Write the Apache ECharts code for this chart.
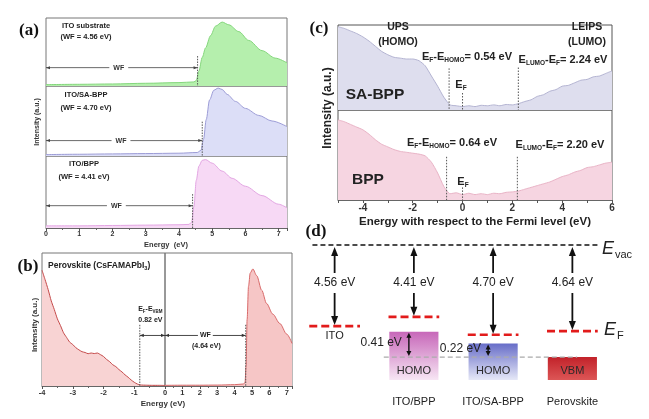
<!DOCTYPE html>
<html><head><meta charset="utf-8">
<script src="https://cdn.jsdelivr.net/npm/echarts@6/dist/echarts.min.js"></script>
<style>html,body{margin:0;padding:0;background:#fff}#c{width:649px;height:419px}</style>
</head><body><div id="c"></div>
<script>
// ---------- DATA ----------
// (a) secondary electron cut-off spectra (relative intensity)
const aEnergyITO = [0, 1, 2, 3, 4, 4.45, 4.52, 4.6, 4.7, 4.8, 4.95, 5.1, 5.3, 5.5, 5.8, 6.1, 6.5, 6.9, 7.25];
const aIntITO    = [0.02, 0.025, 0.03, 0.04, 0.05, 0.06, 0.08, 0.22, 0.42, 0.56, 0.74, 0.88, 0.94, 0.9, 0.8, 0.67, 0.52, 0.41, 0.34];
const aEnergySA  = [0, 1, 2, 3, 4, 4.55, 4.66, 4.74, 4.82, 4.92, 5.05, 5.18, 5.3, 5.45, 5.7, 6.0, 6.4, 6.8, 7.25];
const aIntSA     = [0.02, 0.025, 0.03, 0.035, 0.04, 0.05, 0.08, 0.24, 0.52, 0.8, 0.94, 0.97, 0.95, 0.88, 0.78, 0.68, 0.58, 0.5, 0.42];
const aEnergyBPP = [0, 1, 2, 3, 4, 4.3, 4.38, 4.45, 4.52, 4.6, 4.7, 4.8, 5.0, 5.3, 5.6, 6.0, 6.5, 7.0, 7.25];
const aIntBPP    = [0.03, 0.03, 0.035, 0.04, 0.045, 0.05, 0.08, 0.3, 0.66, 0.86, 0.94, 0.95, 0.9, 0.79, 0.69, 0.58, 0.45, 0.33, 0.28];
const aNames = ['ITO substrate', 'ITO/SA-BPP', 'ITO/BPP'];
const aWF = [4.56, 4.70, 4.41];

// (b) perovskite UPS
const bNegE = [-4.0,-3.9,-3.8,-3.7,-3.6,-3.5,-3.4,-3.3,-3.2,-3.1,-3.0,-2.9,-2.8,-2.7,-2.6,-2.5,-2.4,-2.3,-2.2,-2.1,-2.0,-1.9,-1.8,-1.7,-1.6,-1.5,-1.4,-1.3,-1.2,-1.1,-1.0,-0.9,-0.8,-0.6,-0.4,-0.2,0];
const bNegI = [0.87,0.8,0.725,0.64,0.575,0.505,0.455,0.4,0.365,0.33,0.312,0.288,0.272,0.258,0.252,0.243,0.248,0.244,0.248,0.236,0.222,0.2,0.183,0.16,0.146,0.124,0.106,0.084,0.066,0.045,0.028,0.015,0.008,0.006,0.005,0.005,0.004];
const bPosE = [0, 1, 2, 3, 4, 4.5, 4.6, 4.66, 4.72, 4.8, 4.9, 5.05, 5.27, 5.56, 5.84, 6.2, 6.6, 7.0, 7.3];
const bPosI = [0.005, 0.006, 0.006, 0.007, 0.01, 0.015, 0.025, 0.15, 0.5, 0.75, 0.85, 0.88, 0.83, 0.72, 0.62, 0.54, 0.47, 0.39, 0.32];
const bWF = 4.64;
const bEfVbm = 0.82;

// (c) UPS / LEIPS
const cEnergy = [-5,-4.75,-4.5,-4.25,-4,-3.75,-3.5,-3.25,-3,-2.75,-2.5,-2.25,-2,-1.75,-1.5,-1.25,-1,-0.75,-0.5,-0.25,0,0.25,0.5,0.75,1,1.25,1.5,1.75,2,2.25,2.5,2.75,3,3.25,3.5,3.75,4,4.25,4.5,4.75,5,5.25,5.5,5.75,6];
const cSABPP = [0.98,0.96,0.93,0.9,0.86,0.81,0.75,0.69,0.65,0.62,0.61,0.6,0.6,0.58,0.52,0.4,0.28,0.15,0.06,0.05,0.04,0.05,0.04,0.055,0.05,0.06,0.05,0.065,0.06,0.075,0.1,0.12,0.16,0.18,0.22,0.24,0.28,0.29,0.32,0.35,0.36,0.39,0.4,0.43,0.46];
const cBPP   = [0.89,0.87,0.84,0.81,0.78,0.73,0.67,0.62,0.59,0.56,0.54,0.53,0.52,0.51,0.49,0.42,0.3,0.15,0.07,0.08,0.06,0.075,0.06,0.07,0.06,0.075,0.07,0.085,0.09,0.1,0.12,0.14,0.16,0.18,0.2,0.23,0.26,0.28,0.31,0.33,0.36,0.37,0.39,0.41,0.42];
const cHomoGap = [0.54, 0.64];
const cLumoGap = [2.24, 2.20];

// (d) energy diagram
const dCats = ['ITO', 'ITO/BPP', 'ITO/SA-BPP', 'Perovskite'];
const dWF = [4.56, 4.41, 4.70, 4.64];
const dGap = [null, 0.41, 0.22, 0];
const dBoxLabel = [null, 'HOMO', 'HOMO', 'VBM'];

// ---------- HELPERS ----------
const F = "'Liberation Sans', Arial, Helvetica, sans-serif";
const FS = "'Liberation Serif', 'Times New Roman', serif";
const zip = (x, y) => x.map((v, i) => [v, y[i]]);
function head(tip, from, len, wid, color) {
  const dx = tip[0] - from[0], dy = tip[1] - from[1];
  const L = Math.hypot(dx, dy) || 1, ux = dx / L, uy = dy / L;
  const bx = tip[0] - ux * len, by = tip[1] - uy * len, px = -uy * wid / 2, py = ux * wid / 2;
  return {type: 'polygon', shape: {points: [[tip[0], tip[1]], [bx + px, by + py], [bx - px, by - py]]}, style: {fill: color}};
}
function seg(a, b, st) { return {type: 'line', shape: {x1: a[0], y1: a[1], x2: b[0], y2: b[1]}, style: Object.assign({fill: null}, st)}; }
function txt(x, y, text, font, opt) {
  return {type: 'text', x: x, y: y, style: Object.assign({text: text, font: font, fill: '#222', align: 'center', verticalAlign: 'middle', textAlign: 'center', textVerticalAlign: 'middle'}, opt || {})};
}
function rtxt(x, y, text, rich, opt) {
  return {type: 'text', x: x, y: y, style: Object.assign({text: text, rich: rich, fill: '#222', align: 'center', verticalAlign: 'middle', textAlign: 'center', textVerticalAlign: 'middle'}, opt || {})};
}
function richSet(size, subSize, weight) {
  return {
    m: {font: weight + ' ' + size + 'px ' + F, fontSize: size, fontWeight: weight, fontFamily: F, fill: '#222', color: '#222', lineHeight: size + 3},
    s: {font: weight + ' ' + subSize + 'px ' + F, fontSize: subSize, fontWeight: weight, fontFamily: F, fill: '#222', color: '#222', verticalAlign: 'bottom', lineHeight: subSize}
  };
}

// ---------- LAYOUT ----------
const gridA = [{top: 18, height: 68}, {top: 86, height: 70}, {top: 156, height: 72}];
const dLay = {yMax: -3.25, yMin: -5.43, ref: -5.06, half: 0.32, box: 0.31, evacFrom: -0.28, evacTo: 3.32, refFrom: 0.62, refTo: 3.06};
const aArrowY = [0.27, 0.22, 0.31], aDotTop = [0.44, 0.49, 0.47];

const grids = [];
gridA.forEach(g => grids.push({left: 46, width: 241, top: g.top, height: g.height}));
grids.push({left: 42, width: 123, top: 253, height: 133});
grids.push({left: 165, width: 127, top: 253, height: 133});
grids.push({left: 338, width: 274, top: 25, height: 85});
grids.push({left: 338, width: 274, top: 110, height: 90});
grids.push({left: 295, width: 317, top: 245, height: 135});
grids.forEach((g, i) => { g.show = i < 7; g.borderColor = i >= 5 ? '#555' : '#777'; g.borderWidth = 1; g.backgroundColor = 'transparent'; });

const tickLbl = (sz) => ({fontSize: sz, fontWeight: 'bold', color: '#333', fontFamily: F, margin: 3});
const baseAx = {type: 'value', splitLine: {show: false}, axisLine: {lineStyle: {color: '#666'}}, axisTick: {length: 3, lineStyle: {color: '#555'}}, minorTick: {show: true, splitNumber: 2, length: 2, lineStyle: {color: '#666'}}};
const isInt = v => Math.abs(v - Math.round(v)) < 1e-6;

const xAxis = [
  {gridIndex: 0, type: 'value', min: 0, max: 7.25, show: false},
  {gridIndex: 1, type: 'value', min: 0, max: 7.25, show: false},
  Object.assign({}, baseAx, {gridIndex: 2, min: 0, max: 7.25, interval: 1, axisLabel: Object.assign(tickLbl(7), {formatter: v => isInt(v) ? String(Math.round(v)) : ''})}),
  Object.assign({}, baseAx, {gridIndex: 3, min: -4, max: 0, interval: 1, axisLabel: Object.assign(tickLbl(7.5), {formatter: v => v === 0 ? '' : String(v)})}),
  Object.assign({}, baseAx, {gridIndex: 4, min: 0, max: 7.3, interval: 1, axisLabel: Object.assign(tickLbl(7.5), {formatter: v => isInt(v) ? String(Math.round(v)) : ''})}),
  {gridIndex: 5, type: 'value', min: -5, max: 6, show: false},
  Object.assign({}, baseAx, {gridIndex: 6, min: -5, max: 6, interval: 1, minorTick: {show: false}, axisTick: {length: 3, lineStyle: {color: '#555'}}, axisLabel: Object.assign(tickLbl(10), {formatter: v => (isInt(v) && Math.round(v) % 2 === 0) ? String(Math.round(v)) : ''})}),
  {gridIndex: 7, type: 'value', min: -0.5, max: 3.5, show: false}
];
const yAxis = [0, 1, 2, 3, 4, 5, 6].map(i => ({gridIndex: i, type: 'value', min: 0, max: 1, show: false}));
yAxis.push({gridIndex: 7, type: 'value', min: dLay.yMin, max: dLay.yMax, show: false});

// ---------- RENDERERS ----------
function wfArrowA(params, api) {
  const wf = api.value(0), ay = api.value(1), top = api.value(2);
  const p0 = api.coord([0, ay]), p1 = api.coord([wf, ay]);
  const d0 = api.coord([wf, top]), d1 = api.coord([wf, 0]);
  const mx = p0[0] + (p1[0] - p0[0]) * 0.48;
  return {type: 'group', children: [
    seg(p0, p1, {stroke: '#444', lineWidth: 0.8}),
    head(p0, [p0[0] + 5, p0[1]], 4, 3, '#444'),
    head(p1, [p1[0] - 5, p1[1]], 4, 3, '#444'),
    txt(mx, p0[1], 'WF', 'bold 7px ' + F, {fill: '#333', backgroundColor: '#fff', padding: [1, 4]}),
    seg(d0, d1, {stroke: '#555', lineWidth: 1, lineDash: [1.5, 1.2]})
  ]};
}
function bLeft(params, api) {
  const x = api.value(0), ay = api.value(1), top = api.value(2);
  const p0 = api.coord([0, ay]), p1 = api.coord([x, ay]);
  const d0 = api.coord([x, top]), d1 = api.coord([x, 0]);
  const mx = (p0[0] + p1[0]) / 2 - 2;
  return {type: 'group', children: [
    seg(p0, p1, {stroke: '#333', lineWidth: 0.9}),
    head(p1, p0, 4, 3.2, '#333'), head(p0, p1, 4, 3.2, '#333'),
    seg(d0, d1, {stroke: '#555', lineWidth: 1, lineDash: [1.5, 1.2]}),
    rtxt(mx, d0[1] - 16, '{m|E}{s|F}{m|-E}{s|VBM}', richSet(7, 4.5, 'bold')),
    txt(mx, d0[1] - 5, (-x).toFixed(2) + ' eV', 'bold 7px ' + F)
  ]};
}
function bRight(params, api) {
  const x = api.value(0), ay = api.value(1), top = api.value(2);
  const p0 = api.coord([0, ay]), p1 = api.coord([x, ay]);
  const d0 = api.coord([x, top]), d1 = api.coord([x, 0]);
  const mx = (p0[0] + p1[0]) / 2;
  return {type: 'group', children: [
    seg(p0, p1, {stroke: '#333', lineWidth: 0.9}),
    head(p1, p0, 4, 3.2, '#333'), head(p0, p1, 4, 3.2, '#333'),
    seg(d0, d1, {stroke: '#555', lineWidth: 1, lineDash: [1.5, 1.2]}),
    txt(mx, p0[1], 'WF', 'bold 7px ' + F, {backgroundColor: '#fff', padding: [1, 2]}),
    txt(mx + 1, p0[1] + 11, '(' + x.toFixed(2) + ' eV)', 'bold 7px ' + F)
  ]};
}
function cDots(params, api) {
  const a = api.coord([api.value(0), api.value(1)]), b = api.coord([api.value(0), 0]);
  return seg(a, b, {stroke: '#555', lineWidth: 1, lineDash: [1.5, 1.5]});
}
function dLevel(params, api) {
  const i = api.value(0), y = api.value(1);
  const pL = api.coord([i - dLay.half, y]), pR = api.coord([i + dLay.half, y]);
  const pT = api.coord([i, dLay.yMax]), pE = api.coord([i, y]);
  const ly = pT[1] + 38;
  const ch = [
    seg(pL, pR, {stroke: '#e21b1b', lineWidth: 2.6, lineDash: [8, 4]}),
    seg([pT[0], ly - 10], [pT[0], pT[1] + 8], {stroke: '#111', lineWidth: 1.8}),
    head([pT[0], pT[1] + 2], [pT[0], ly], 9, 7, '#111'),
    seg([pE[0], ly + 10], [pE[0], pE[1] - 8], {stroke: '#111', lineWidth: 1.8}),
    head([pE[0], pE[1] - 1], [pE[0], ly], 9, 7, '#111'),
    txt(pT[0], ly, (-y).toFixed(2) + ' eV', '12px ' + F)
  ];
  if (i === 0) ch.push(txt(pE[0], pE[1] + 10, dCats[i], '11px ' + F));
  else ch.push(txt(pE[0], api.coord([i, dLay.yMin])[1] + 22, dCats[i], '11px ' + F));
  return {type: 'group', children: ch};
}
const dBoxColors = [null, ['#c767b9', '#f7e6f4'], ['#676dc8', '#e6e8f7'], ['#c2222a', '#dc5656']];
function dBox(params, api) {
  const i = api.value(0), top = api.value(1);
  const tl = api.coord([i - dLay.box, top]), br = api.coord([i + dLay.box, dLay.yMin]);
  const c = dBoxColors[i];
  return {type: 'group', children: [
    {type: 'rect', shape: {x: tl[0], y: tl[1], width: br[0] - tl[0], height: br[1] - tl[1]},
     style: {fill: new echarts.graphic.LinearGradient(0, 0, 0, 1, [{offset: 0, color: c[0]}, {offset: 1, color: c[1]}])}},
    txt((tl[0] + br[0]) / 2, br[1] - 9, dBoxLabel[i], '11px ' + F, {fill: '#2a2a2a'})
  ]};
}
function dRefLine(params, api) {
  const a = api.coord([dLay.refFrom, dLay.ref]), b = api.coord([dLay.refTo, dLay.ref]);
  return seg(a, b, {stroke: '#aaa', lineWidth: 1.3, lineDash: [5, 3]});
}
function dEvac(params, api) {
  const a = api.coord([dLay.evacFrom, dLay.yMax]), b = api.coord([dLay.evacTo, dLay.yMax]);
  return seg(a, b, {stroke: '#111', lineWidth: 1.3, lineDash: [5, 3]});
}
function dGapArrow(params, api) {
  const i = api.value(0), g = api.value(1);
  const a = api.coord([i, dLay.ref + g]), b = api.coord([i, dLay.ref]);
  const x = a[0] - 5;
  return {type: 'group', children: [
    seg([x, a[1] + 4], [x, b[1] - 4], {stroke: '#111', lineWidth: 1.4}),
    head([x, a[1] + 1], [x, b[1]], 5, 5, '#111'),
    head([x, b[1] - 1], [x, a[1]], 5, 5, '#111'),
    txt(x - 7, (a[1] + b[1]) / 2 - 2, g.toFixed(2) + ' eV', '12px ' + F, {align: 'right', textAlign: 'right'})
  ]};
}

// ---------- SERIES ----------
const series = [];
const aStyles = [['#84d67c', '#b5efad'], ['#9c9cd6', '#dcdef7'], ['#e3a6e3', '#f7d9f5']];
[[aEnergyITO, aIntITO], [aEnergySA, aIntSA], [aEnergyBPP, aIntBPP]].forEach((d, i) => {
  series.push({type: 'line', xAxisIndex: i, yAxisIndex: i, data: zip(d[0], d[1]), showSymbol: false, smooth: 0.3, smoothMonotone: 'x',
    lineStyle: {color: aStyles[i][0], width: 1}, areaStyle: {color: aStyles[i][1], opacity: 1}, silent: true});
  series.push({type: 'custom', xAxisIndex: i, yAxisIndex: i, z: 5, renderItem: wfArrowA, data: [[aWF[i], aArrowY[i], aDotTop[i]]], silent: true});
});
series.push({type: 'line', xAxisIndex: 3, yAxisIndex: 3, data: zip(bNegE, bNegI), showSymbol: false, smooth: 0.2,
  lineStyle: {color: '#c44a4a', width: 1}, areaStyle: {color: '#f8d3d3', opacity: 1}, silent: true});
series.push({type: 'line', xAxisIndex: 4, yAxisIndex: 4, data: zip(bPosE, bPosI), showSymbol: false, smooth: 0.3, smoothMonotone: 'x',
  lineStyle: {color: '#d86a6a', width: 1}, areaStyle: {color: '#f6c6c6', opacity: 1}, silent: true});
series.push({type: 'custom', xAxisIndex: 3, yAxisIndex: 3, z: 5, renderItem: bLeft, data: [[-bEfVbm, 0.38, 0.46]], silent: true});
series.push({type: 'custom', xAxisIndex: 4, yAxisIndex: 4, z: 5, renderItem: bRight, data: [[bWF, 0.38, 0.46]], silent: true});
series.push({type: 'line', xAxisIndex: 5, yAxisIndex: 5, data: zip(cEnergy, cSABPP), showSymbol: false, smooth: 0.2,
  lineStyle: {color: '#b4b4d2', width: 1}, areaStyle: {color: '#dedeee', opacity: 1}, silent: true});
series.push({type: 'line', xAxisIndex: 6, yAxisIndex: 6, data: zip(cEnergy, cBPP), showSymbol: false, smooth: 0.2,
  lineStyle: {color: '#e9b3c6', width: 1}, areaStyle: {color: '#f6d5e1', opacity: 1}, silent: true});
series.push({type: 'custom', xAxisIndex: 5, yAxisIndex: 5, z: 5, renderItem: cDots, data: [[-cHomoGap[0], 0.49], [0, 0.2], [cLumoGap[0], 0.5]], silent: true});
series.push({type: 'custom', xAxisIndex: 6, yAxisIndex: 6, z: 5, renderItem: cDots, data: [[-cHomoGap[1], 0.48], [0, 0.14], [cLumoGap[1], 0.48]], silent: true});
series.push({type: 'custom', xAxisIndex: 7, yAxisIndex: 7, z: 2, renderItem: dBox, data: [1, 2, 3].map(i => [i, dLay.ref + dGap[i]]), silent: true});
series.push({type: 'custom', xAxisIndex: 7, yAxisIndex: 7, z: 3, renderItem: dRefLine, data: [[0, 0]], silent: true});
series.push({type: 'custom', xAxisIndex: 7, yAxisIndex: 7, z: 4, renderItem: dEvac, data: [[0, 0]], silent: true});
series.push({type: 'custom', xAxisIndex: 7, yAxisIndex: 7, z: 5, renderItem: dLevel, data: dCats.map((c, i) => [i, -dWF[i]]), silent: true});
series.push({type: 'custom', xAxisIndex: 7, yAxisIndex: 7, z: 6, renderItem: dGapArrow, data: [1, 2].map(i => [i, dGap[i]]), silent: true});

// ---------- STATIC TEXT ----------
const g = [];
const T = (x, y, text, font, opt) => g.push(Object.assign(txt(x, y, text, font, opt), {z: 100}));
const RT = (x, y, text, rich, opt) => g.push(Object.assign(rtxt(x, y, text, rich, opt), {z: 100}));
T(29, 31, '(a)', 'bold 17px ' + FS, {fill: '#111'});
T(28, 267, '(b)', 'bold 17px ' + FS, {fill: '#111'});
T(319, 29, '(c)', 'bold 17px ' + FS, {fill: '#111'});
T(316, 232, '(d)', 'bold 17px ' + FS, {fill: '#111'});
const aTxtPos = [[86, 26, 37], [86, 95, 108], [84, 164, 177]];
aNames.forEach((n, i) => {
  T(aTxtPos[i][0], aTxtPos[i][1], n, 'bold 7.5px ' + F);
  T(aTxtPos[i][0], aTxtPos[i][2], '(WF = ' + aWF[i].toFixed(2) + ' eV)', 'bold 7.5px ' + F);
});
g.push({type: 'text', x: 37, y: 122, rotation: Math.PI / 2, z: 100, style: {text: 'Intensity (a.u.)', font: 'bold 7px ' + F, fill: '#333', align: 'center', verticalAlign: 'middle', textAlign: 'center', textVerticalAlign: 'middle'}});
T(166, 245, 'Energy  (eV)', 'bold 7.5px ' + F, {fill: '#333'});
RT(48, 266, '{m|Perovskite (CsFAMAPbI}{s|3}{m|)}', richSet(8.5, 5.5, 'bold'), {align: 'left', textAlign: 'left'});
g.push({type: 'text', x: 35, y: 325, rotation: Math.PI / 2, z: 100, style: {text: 'Intensity (a.u.)', font: 'bold 8px ' + F, fill: '#333', align: 'center', verticalAlign: 'middle', textAlign: 'center', textVerticalAlign: 'middle'}});
T(163, 404, 'Energy (eV)', 'bold 8px ' + F, {fill: '#333'});
// (c)
T(398, 27, 'UPS', 'bold 10.5px ' + F);
T(398, 42, '(HOMO)', 'bold 10.5px ' + F);
T(587, 27, 'LEIPS', 'bold 10.5px ' + F);
T(587, 42, '(LUMO)', 'bold 10.5px ' + F);
const cr = richSet(11, 6.5, 'bold');
RT(467, 57, '{m|E}{s|F}{m|-E}{s|HOMO}{m|= ' + cHomoGap[0].toFixed(2) + ' eV}', cr);
RT(563, 60, '{m|E}{s|LUMO}{m|-E}{s|F}{m|= ' + cLumoGap[0].toFixed(2) + ' eV}', cr);
RT(461, 85, '{m|E}{s|F}', cr);
T(375, 95, 'SA-BPP', 'bold 15.5px ' + F);
RT(452, 143, '{m|E}{s|F}{m|-E}{s|HOMO}{m|= ' + cHomoGap[1].toFixed(2) + ' eV}', cr);
RT(560, 145, '{m|E}{s|LUMO}{m|-E}{s|F}{m|= ' + cLumoGap[1].toFixed(2) + ' eV}', cr);
RT(463, 182, '{m|E}{s|F}', cr);
T(368, 180, 'BPP', 'bold 15.5px ' + F);
g.push({type: 'text', x: 328, y: 108, rotation: Math.PI / 2, z: 100, style: {text: 'Intensity (a.u.)', font: 'bold 12px ' + F, fill: '#222', align: 'center', verticalAlign: 'middle', textAlign: 'center', textVerticalAlign: 'middle'}});
T(475, 222, 'Energy with respect to the Fermi level (eV)', 'bold 11.5px ' + F);
// (d) italic E with subscripts
const ital = {font: null, fontStyle: 'italic', fontSize: 18, fontFamily: F, fontWeight: 'normal'};
T(608, 249, 'E', 'italic 18px ' + F, Object.assign({}, ital));
T(615, 255, 'vac', '11px ' + F, {align: 'left', textAlign: 'left'});
T(610, 330, 'E', 'italic 18px ' + F, Object.assign({}, ital));
T(617, 336, 'F', '11px ' + F, {align: 'left', textAlign: 'left'});

const chart = echarts.init(document.getElementById('c'), null, {renderer: 'canvas'});
chart.setOption({animation: false, backgroundColor: '#fff', grid: grids, xAxis: xAxis, yAxis: yAxis, series: series, graphic: {elements: g}});
</script></body></html>
